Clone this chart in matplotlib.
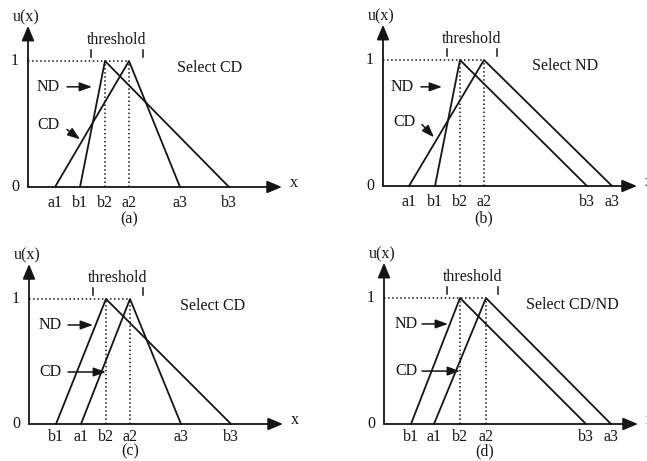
import matplotlib.pyplot as plt

plt.rcParams['font.family'] = ['Liberation Serif', 'DejaVu Serif']
plt.rcParams['font.size'] = 11.5

W, H = 647, 461

# panel origins in pixels (y-axis x, x-axis y) and height of u=1 in pixels
origins = [(28, 187), (383, 186), (29, 424), (384, 424)]
unit_h = [126, 126, 125, 126]

# breakpoints of the CD triangle (a1, a2, a3) and ND triangle (b1, b2, b3)
cd_pts = [[27, 101, 152], [26, 101, 229], [52, 101, 152], [50, 102, 227]]
nd_pts = [[52, 77, 201], [52, 77, 204], [27, 77, 202], [27, 76, 202]]
thresholds = [[63, 115], [64, 114], [64, 114], [63, 114]]

a_names = ['a1', 'a2', 'a3']
b_names = ['b1', 'b2', 'b3']
panel_names = ['(a)', '(b)', '(c)', '(d)']
select_text = ['Select CD', 'Select ND', 'Select CD', 'Select CD/ND']
select_pos = [(149, 0.945), (149, 0.95), (151, 0.944), (142, 0.944)]

# label arrows: (text x, text y, arrow start, arrow end)
nd_label = [(20, 0.795, (39, 0.795), (64, 0.795)),
            (19, 0.787, (38, 0.787), (59, 0.787)),
            (21, 0.792, (39, 0.792), (64, 0.792)),
            (22, 0.794, (38, 0.794), (64, 0.794))]
cd_label = [(20, 0.496, (39, 0.456), (52, 0.378)),
            (21, 0.504, (39, 0.488), (51, 0.386)),
            (21, 0.416, (39, 0.416), (77, 0.416)),
            (22, 0.42, (38, 0.42), (76, 0.42))]
tick_y = [-0.126, -0.126, -0.104, -0.104]
label_y = [-0.26, -0.26, -0.22, -0.22]

x_end = 254
y_top = 1.28
ink = '#151515'

fig = plt.figure(figsize=(W / 100, H / 100), dpi=100)

for i in range(4):
    ox, oy = origins[i]
    h1 = unit_h[i]
    left, right, down, up = 25, 285, 40, 185
    ax = fig.add_axes([(ox - left) / W, (H - oy - down) / H,
                       (left + right) / W, (down + up) / H])
    ax.set_xlim(-left, right)
    ax.set_ylim(-down / h1, up / h1)
    ax.axis('off')

    a = cd_pts[i]
    b = nd_pts[i]

    # axes with arrows
    axis_arrow = dict(arrowstyle='-|>,head_length=0.6,head_width=0.25',
                      color=ink, lw=1.3, mutation_scale=15, shrinkA=0, shrinkB=0)
    ax.annotate('', xy=(x_end, 0), xytext=(0, 0), arrowprops=axis_arrow)
    ax.annotate('', xy=(0, y_top), xytext=(0, 0), arrowprops=axis_arrow)
    ax.text(-2, y_top + 0.065, 'u(x)', ha='center', va='center', color=ink)
    ax.text(x_end + 12, 0.03, 'x', ha='center', va='center', color=ink)
    ax.text(-13, 1, '1', ha='center', va='center', color=ink)
    ax.text(-13, 0, '0', ha='center', va='center', color=ink)

    # dotted guides
    peak = max(a[1], b[1])
    ax.plot([0, peak], [1, 1], ls=':', color=ink, lw=1.1)
    ax.plot([a[1], a[1]], [0, 1], ls=':', color=ink, lw=1.1)
    ax.plot([b[1], b[1]], [0, 1], ls=':', color=ink, lw=1.1)

    # membership triangles
    ax.plot(a, [0, 1, 0], color=ink, lw=1.3)
    ax.plot(b, [0, 1, 0], color=ink, lw=1.3)

    # threshold marks
    t0, t1 = thresholds[i]
    for t in (t0, t1):
        ax.plot([t, t], [1.03, 1.09], color=ink, lw=1.1)
    ax.text((t0 + t1) / 2, 1.17, 'threshold', ha='center', va='center', color=ink)

    # point labels
    for name, v in zip(a_names + b_names, a + b):
        ax.text(v, tick_y[i], name, ha='center', va='center', color=ink)
    ax.text(101, label_y[i], panel_names[i], ha='center', va='center', color=ink)

    sx, sy = select_pos[i]
    ax.text(sx, sy, select_text[i], ha='left', va='center', color=ink)

    small_arrow = dict(arrowstyle='-|>,head_length=0.5,head_width=0.18',
                       color=ink, lw=1.1, mutation_scale=15, shrinkA=0, shrinkB=0)
    for txt, lab in (('ND', nd_label[i]), ('CD', cd_label[i])):
        tx, ty, start, end = lab
        ax.text(tx, ty, txt, ha='center', va='center', color=ink)
        ax.annotate('', xy=end, xytext=start, arrowprops=small_arrow)

fig.savefig('out.png', dpi=100)
